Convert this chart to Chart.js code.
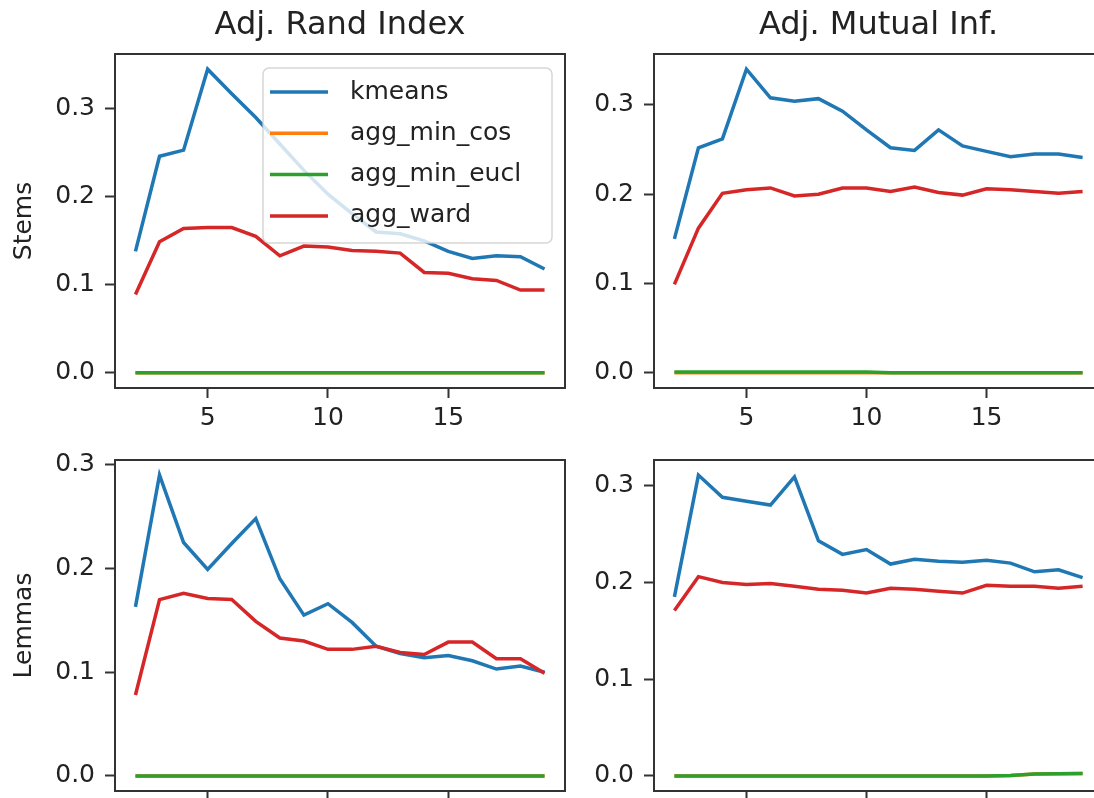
<!DOCTYPE html>
<html>
<head>
<meta charset="utf-8">
<script src="https://cdn.jsdelivr.net/npm/chart.js@4.4.1/dist/chart.umd.min.js"></script>
<style>
  html, body { margin: 0; padding: 0; background: #fff; overflow: hidden; width: 1094px; height: 798px; }
  .panel { position: absolute; }
</style>
</head>
<body>
<div class="panel" id="pTL" style="left:0;top:0;width:580px;height:438px"><canvas id="cTL"></canvas></div>
<div class="panel" id="pTR" style="left:580px;top:0;width:538px;height:438px"><canvas id="cTR"></canvas></div>
<div class="panel" id="pBL" style="left:0;top:435px;width:580px;height:406px"><canvas id="cBL"></canvas></div>
<div class="panel" id="pBR" style="left:580px;top:435px;width:538px;height:406px"><canvas id="cBR"></canvas></div>
<script>
// number of clusters on the x axis
var clusters = [2, 3, 4, 5, 6, 7, 8, 9, 10, 11, 12, 13, 14, 15, 16, 17, 18, 19];

var seriesNames = ['kmeans', 'agg_min_cos', 'agg_min_eucl', 'agg_ward'];
var colTitles = ['Adj. Rand Index', 'Adj. Mutual Inf.'];
var rowLabels = ['Stems', 'Lemmas'];

// Stems / Adj. Rand Index
var ariStemsKmeans = [0.138, 0.246, 0.253, 0.345, 0.317, 0.290, 0.260, 0.230, 0.203, 0.181, 0.160, 0.158, 0.150, 0.138, 0.130, 0.133, 0.132, 0.118];
var ariStemsMinCos = [0, 0, 0, 0, 0, 0, 0, 0, 0, 0, 0, 0, 0, 0, 0, 0, 0, 0];
var ariStemsMinEucl = [0, 0, 0, 0, 0, 0, 0, 0, 0, 0, 0, 0, 0, 0, 0, 0, 0, 0];
var ariStemsWard = [0.089, 0.149, 0.164, 0.165, 0.165, 0.155, 0.133, 0.144, 0.143, 0.139, 0.138, 0.136, 0.114, 0.113, 0.107, 0.105, 0.094, 0.094];

// Stems / Adj. Mutual Inf.
var amiStemsKmeans = [0.150, 0.252, 0.262, 0.340, 0.308, 0.304, 0.307, 0.293, 0.272, 0.252, 0.249, 0.272, 0.254, 0.248, 0.242, 0.245, 0.245, 0.241];
var amiStemsMinCos = [0, 0, 0, 0, 0, 0, 0, 0, 0, 0, 0, 0, 0, 0, 0, 0, 0, 0];
var amiStemsMinEucl = [0.001, 0.001, 0.001, 0.001, 0.001, 0.001, 0.001, 0.001, 0.001, 0, 0, 0, 0, 0, 0, 0, 0, 0];
var amiStemsWard = [0.099, 0.162, 0.201, 0.205, 0.207, 0.198, 0.200, 0.207, 0.207, 0.203, 0.208, 0.202, 0.199, 0.206, 0.205, 0.203, 0.201, 0.203];

// Lemmas / Adj. Rand Index
var ariLemmasKmeans = [0.163, 0.290, 0.225, 0.199, 0.224, 0.248, 0.190, 0.155, 0.166, 0.148, 0.125, 0.118, 0.114, 0.116, 0.111, 0.103, 0.106, 0.100];
var ariLemmasMinCos = [0, 0, 0, 0, 0, 0, 0, 0, 0, 0, 0, 0, 0, 0, 0, 0, 0, 0];
var ariLemmasMinEucl = [0, 0, 0, 0, 0, 0, 0, 0, 0, 0, 0, 0, 0, 0, 0, 0, 0, 0];
var ariLemmasWard = [0.078, 0.170, 0.176, 0.171, 0.170, 0.149, 0.133, 0.130, 0.122, 0.122, 0.125, 0.119, 0.117, 0.129, 0.129, 0.113, 0.113, 0.099];

// Lemmas / Adj. Mutual Inf.
var amiLemmasKmeans = [0.185, 0.311, 0.288, 0.284, 0.280, 0.309, 0.243, 0.229, 0.234, 0.219, 0.224, 0.222, 0.221, 0.223, 0.220, 0.211, 0.213, 0.205];
var amiLemmasMinCos = [0, 0, 0, 0, 0, 0, 0, 0, 0, 0, 0, 0, 0, 0, 0.0005, 0.002, 0.0023, 0.0025];
var amiLemmasMinEucl = [0, 0, 0, 0, 0, 0, 0, 0, 0, 0, 0, 0, 0, 0, 0.0005, 0.002, 0.0023, 0.0025];
var amiLemmasWard = [0.171, 0.206, 0.200, 0.198, 0.199, 0.196, 0.193, 0.192, 0.189, 0.194, 0.193, 0.191, 0.189, 0.197, 0.196, 0.196, 0.194, 0.196];

var lineColors = ['#1f77b4', '#ff7f0e', '#2ca02c', '#d62728'];
var textColor = '#222';
var spineColor = '#333';

Chart.defaults.font.family = '"DejaVu Sans", sans-serif';
Chart.defaults.font.size = 25;
Chart.defaults.color = textColor;

// box around the plot area (matplotlib spines)
var framePlugin = {
    id: 'frame',
    afterDraw: function(chart) {
        var a = chart.chartArea, ctx = chart.ctx;
        ctx.save();
        ctx.strokeStyle = spineColor;
        ctx.lineWidth = 2;
        ctx.strokeRect(a.left, a.top, a.right - a.left, a.bottom - a.top);
        ctx.restore();
    }
};

// legend drawn as a framed box in the upper right of the plot area
var boxLegendPlugin = {
    id: 'boxLegend',
    afterDatasetsDraw: function(chart, args, opts) {
        if (!opts.show) return;
        var a = chart.chartArea, ctx = chart.ctx;
        var w = 289, h = 175;
        var x = a.right - 13 - w, y = a.top + 14;
        ctx.save();
        ctx.beginPath();
        ctx.roundRect(x, y, w, h, 6);
        ctx.fillStyle = 'rgba(255,255,255,0.8)';
        ctx.fill();
        ctx.strokeStyle = 'rgba(204,204,204,0.8)';
        ctx.lineWidth = 1.5;
        ctx.stroke();
        ctx.font = '25px "DejaVu Sans", sans-serif';
        ctx.textBaseline = 'middle';
        ctx.textAlign = 'left';
        chart.data.datasets.forEach(function(ds, i) {
            var ry = y + 24 + i * 41.3;
            ctx.beginPath();
            ctx.moveTo(x + 7, ry);
            ctx.lineTo(x + 65, ry);
            ctx.strokeStyle = ds.borderColor;
            ctx.lineWidth = 3.5;
            ctx.stroke();
            ctx.fillStyle = textColor;
            ctx.fillText(ds.label, x + 87, ry);
        });
        ctx.restore();
    }
};

function niceRange(seriesList) {
    var lo = Infinity, hi = -Infinity;
    seriesList.forEach(function(s) {
        s.forEach(function(v) { lo = Math.min(lo, v); hi = Math.max(hi, v); });
    });
    var pad = (hi - lo) * 0.05;
    return [lo - pad, hi + pad];
}

function makePanel(canvasId, seriesList, opt) {
    var yr = niceRange(seriesList);
    var datasets = seriesList.map(function(vals, i) {
        return {
            label: seriesNames[i],
            data: clusters.map(function(c, k) { return {x: c, y: vals[k]}; }),
            borderColor: lineColors[i],
            backgroundColor: lineColors[i],
            borderWidth: 3.5,
            pointRadius: 0,
            tension: 0,
            order: seriesList.length - i
        };
    });
    return new Chart(document.getElementById(canvasId), {
        type: 'line',
        data: { datasets: datasets },
        options: {
            responsive: true,
            maintainAspectRatio: false,
            animation: false,
            events: [],
            layout: { padding: { left: 0, right: 15, top: opt.padTop, bottom: 0 } },
            plugins: {
                legend: { display: false },
                tooltip: { enabled: false },
                title: {
                    display: !!opt.title,
                    text: opt.title || '',
                    fullSize: false,
                    color: textColor,
                    font: { size: 32, weight: 'normal' },
                    padding: { top: 6, bottom: 9.6 }
                },
                boxLegend: { show: !!opt.legend }
            },
            scales: {
                x: {
                    type: 'linear',
                    min: clusters[0] - (clusters[clusters.length - 1] - clusters[0]) * 0.05,
                    max: clusters[clusters.length - 1] + (clusters[clusters.length - 1] - clusters[0]) * 0.05,
                    border: { display: false },
                    grid: { drawOnChartArea: false, drawTicks: true, tickLength: 10, tickWidth: 2, tickColor: spineColor },
                    ticks: { stepSize: 5, includeBounds: false, padding: 5, maxRotation: 0, color: textColor },
                    afterFit: function(s) { s.height = 50; }
                },
                y: {
                    type: 'linear',
                    min: yr[0],
                    max: yr[1],
                    border: { display: false },
                    grid: { drawOnChartArea: false, drawTicks: true, tickLength: 10, tickWidth: 2, tickColor: spineColor },
                    ticks: {
                        stepSize: 0.1, includeBounds: false, padding: 10, color: textColor,
                        callback: function(v) { return v.toFixed(1); }
                    },
                    title: {
                        display: !!opt.yLabel,
                        text: opt.yLabel || '',
                        color: textColor,
                        font: { size: 25 },
                        padding: { top: 9, bottom: 0 }
                    },
                    afterFit: function(s) { s.width = opt.yWidth; }
                }
            }
        },
        plugins: [framePlugin, boxLegendPlugin]
    });
}

makePanel('cTL', [ariStemsKmeans, ariStemsMinCos, ariStemsMinEucl, ariStemsWard],
    { title: colTitles[0], yLabel: rowLabels[0], legend: true, yWidth: 115, padTop: 0 });
makePanel('cTR', [amiStemsKmeans, amiStemsMinCos, amiStemsMinEucl, amiStemsWard],
    { title: colTitles[1], yWidth: 74, padTop: 0 });
makePanel('cBL', [ariLemmasKmeans, ariLemmasMinCos, ariLemmasMinEucl, ariLemmasWard],
    { yLabel: rowLabels[1], yWidth: 115, padTop: 20 });
makePanel('cBR', [amiLemmasKmeans, amiLemmasMinCos, amiLemmasMinEucl, amiLemmasWard],
    { yWidth: 74, padTop: 20 });
</script>
</body>
</html>
